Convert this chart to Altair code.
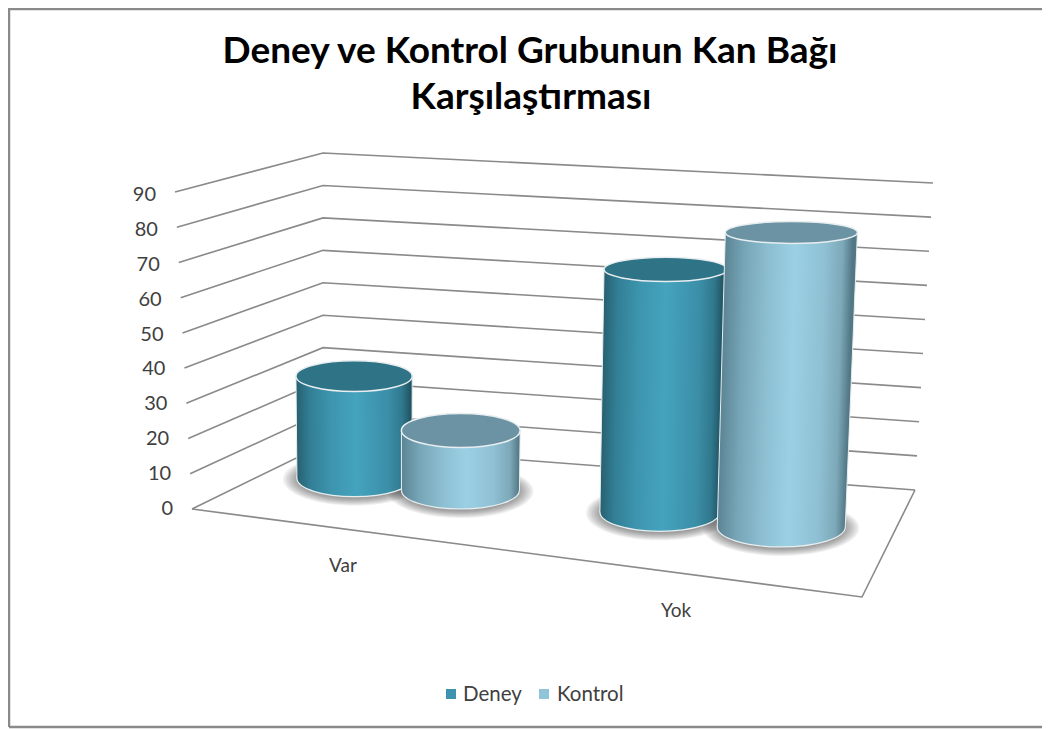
import altair as alt
import pandas as pd

# ---- values ----
categories = ["Var", "Yok"]
series = ["Deney", "Kontrol"]
deney = [30.3, 69.7]
kontrol = [17.5, 83.5]
ticks = [0, 10, 20, 30, 40, 50, 60, 70, 80, 90]
title_lines = ["Deney ve Kontrol Grubunun Kan Bağı", "Karşılaştırması"]

# ---- 3D box used as a projection (layout, not data) ----
W, H = 1034, 721
VMAX = 90.0
FL0, FL1 = (192, 509), (175, 192)
BL0, BL1 = (323, 445), (323, 153)
BR0, BR1 = (915, 490), (933, 183)
FR0 = (862, 597)
# floor position (across, depth) and base radius per bar
place = {
    ("Var", "Deney"): (0.133, 0.608, 57.5),
    ("Var", "Kontrol"): (0.306, 0.592, 59.0),
    ("Yok", "Deney"): (0.628, 0.575, 60.0),
    ("Yok", "Kontrol"): (0.825, 0.548, 64.0),
}


def lerp(a, b, t):
    return (a[0] + (b[0] - a[0]) * t, a[1] + (b[1] - a[1]) * t)


def floor(u, w):
    return lerp(lerp(FL0, FR0, u), lerp(BL0, BR0, u), w)


def unit(u, w):
    front = 3.51 + 0.24 * u
    back = 3.24 + 0.17 * u
    return front + (back - front) * w


def ry_at(y):
    return 11.0 + 0.03 * (y - 232)


def ellipse(aspect):
    k = 0.5523
    a = round(aspect, 4)
    ka = round(k * aspect, 4)
    return (f"M-1,0 C-1,{-ka} {-k},{-a} 0,{-a} C{k},{-a} 1,{-ka} 1,0 "
            f"C1,{ka} {k},{a} 0,{a} C{-k},{a} -1,{ka} -1,0 Z")


def ell_row(x, y, rx, ry, **kw):
    return dict(x=x, y=y, path=ellipse(ry / rx), size=(2 * rx) ** 2, **kw)


sx = alt.Scale(domain=[8, 8 + W], range=[0, W], nice=False, zero=False)
sy = alt.Scale(domain=[8 + H, 8], range=[H, 0], nice=False, zero=False)
X = alt.X("x:Q", scale=sx, axis=None, title=None)
Y = alt.Y("y:Q", scale=sy, axis=None, title=None)
X2 = alt.X2("x2:Q")
Y2 = alt.Y2("y2:Q")
SHAPES = dict(x=X, y=Y, shape=alt.Shape("path:N", scale=None),
              size=alt.Size("size:Q", scale=None))

# ---- grid ----
grid = []
for v in ticks:
    t = v / VMAX
    for i, p in enumerate([lerp(FL0, FL1, t), lerp(BL0, BL1, t), lerp(BR0, BR1, t)]):
        grid.append(dict(x=p[0], y=p[1], g=f"l{v}", o=i))
for i, p in enumerate([FL0, FR0, BR0]):
    grid.append(dict(x=p[0], y=p[1], g="floor", o=i))
grid_layer = alt.Chart(pd.DataFrame(grid)).mark_line(
    color="#8a8a8a", strokeWidth=1.6).encode(
    x=X, y=Y, detail="g:N", order="o:Q")

tick_df = pd.DataFrame([
    dict(x=lerp(FL0, FL1, v / VMAX)[0] - 19, y=lerp(FL0, FL1, v / VMAX)[1] + 3 * v / VMAX, t=str(v))
    for v in ticks])
tick_layer = alt.Chart(tick_df).mark_text(
    align="right", baseline="middle", font="Lato", fontSize=20, color="#404040").encode(
    x=X, y=Y, text="t:N")

# ---- cylinders ----
grads = {
    "Deney": [("#27606f", 0), ("#327f96", 0.12), ("#3d95ae", 0.3), ("#45a3be", 0.52),
              ("#3b8ea7", 0.8), ("#30788d", 0.92), ("#1f5261", 1)],
    "Kontrol": [("#5b8494", 0), ("#76a5b6", 0.15), ("#8dbfd2", 0.35), ("#9bd0e4", 0.55),
                ("#8fc0d3", 0.78), ("#7da9b9", 0.92), ("#527785", 1)],
}
top_col = {"Deney": "#2f7386", "Kontrol": "#6b93a3"}
edge = "#e8eef0"

values = {"Deney": deney, "Kontrol": kontrol}
shadow_rows, cyl_layers = [], []
for s in series:
    stops = [{"color": col, "offset": off} for col, off in grads[s]]
    for ci, c in enumerate(categories):
        u, w, r = place[(c, s)]
        bx, by = floor(u, w)
        h = values[s][ci] * unit(u, w)
        ty = by - h
        rt = r * (1 + 0.032 * h / 295)
        tx = bx + 0.034 * h * (u - 0.2) / 0.62
        ryb = ry_at(by)
        ryt = ry_at(ty)
        for k in range(8):
            shadow_rows.append(ell_row(bx, by + 1, r + 14 - 2 * k, ryb + 8 - k, s=s))

        # the side's shading follows the slant of the cylinder
        left = min(bx - r, tx - rt)
        box_w = max(bx + r, tx + rt) - left
        x0 = (bx - r - left) / box_w
        wu = 2 * r / box_w
        delta = ((tx - rt) - (bx - r)) / box_w
        sc = wu / (1 + delta ** 2)
        side_grad = {"gradient": "linear", "x1": x0, "y1": 1, "x2": x0 + sc, "y2": 1 + sc * delta,
                     "stops": stops}
        base_grad = {"gradient": "linear", "x1": 0, "y1": 0, "x2": 1, "y2": 0, "stops": stops}

        cyl_layers.append(alt.Chart(pd.DataFrame([ell_row(bx, by, r, ryb)])).mark_point(
            filled=True, fill=base_grad, opacity=1, stroke=edge, strokeWidth=1.2).encode(**SHAPES))
        body = pd.DataFrame([dict(y=ty, x=tx - rt, x2=tx + rt), dict(y=by, x=bx - r, x2=bx + r)])
        cyl_layers.append(alt.Chart(body).mark_area(
            orient="horizontal", fill=side_grad, opacity=1).encode(y=Y, x=X, x2=X2))
        edges = pd.DataFrame([dict(x=tx - rt, x2=bx - r, y=ty, y2=by),
                              dict(x=tx + rt, x2=bx + r, y=ty, y2=by)])
        cyl_layers.append(alt.Chart(edges).mark_rule(
            color=edge, strokeWidth=1).encode(x=X, x2=X2, y=Y, y2=Y2))
        cyl_layers.append(alt.Chart(pd.DataFrame([ell_row(tx, ty, rt, ryt)])).mark_point(
            filled=True, fill=top_col[s], opacity=1, stroke=edge, strokeWidth=1.5).encode(**SHAPES))

shadow_layer = alt.Chart(pd.DataFrame(shadow_rows)).mark_point(
    filled=True, fill="#303030", fillOpacity=0.07, opacity=1, strokeWidth=0).encode(**SHAPES)

layers = [grid_layer, shadow_layer, tick_layer] + cyl_layers

# ---- texts ----
title_df = pd.DataFrame({"x": [530, 531], "y": [52, 98], "t": title_lines})
layers.append(alt.Chart(title_df).mark_text(
    font="Lato", fontWeight="bold", fontSize=37, color="#000000", baseline="middle").encode(
    x=X, y=Y, text="t:N"))
cat_df = pd.DataFrame({"x": [343, 676], "y": [566, 611], "t": categories})
layers.append(alt.Chart(cat_df).mark_text(
    font="Lato", fontSize=19, color="#404040", baseline="middle").encode(x=X, y=Y, text="t:N"))

leg_sq = pd.DataFrame({"x": [446, 539], "x2": [456, 549], "y": [689, 689], "y2": [699, 699],
                       "s": series})
layers.append(alt.Chart(leg_sq).mark_rect().encode(
    x=X, x2=X2, y=Y, y2=Y2,
    color=alt.Color("s:N", scale=alt.Scale(domain=series, range=["#3d93ae", "#8fc4d9"]), legend=None)))
leg_tx = pd.DataFrame({"x": [463, 557], "y": [695, 695], "t": series})
layers.append(alt.Chart(leg_tx).mark_text(
    font="Lato", fontSize=20.5, color="#404040", align="left", baseline="middle").encode(
    x=X, y=Y, text="t:N"))

# ---- picture frame ----
frame = pd.DataFrame({"x": [9, 9, 9], "x2": [9, 1050, 1050], "y": [8, 9, 727], "y2": [727, 9, 727]})
layers.append(alt.Chart(frame).mark_rule(color="#8a8a8a", strokeWidth=2.5).encode(
    x=X, x2=X2, y=Y, y2=Y2))

chart = alt.layer(*layers).properties(
    width=W, height=H, padding=0, autosize=alt.AutoSizeParams(type="none"),
    background="#ffffff"
).configure_view(stroke=None)

chart.save("out.html", embed_options={"renderer": "svg", "actions": False})
